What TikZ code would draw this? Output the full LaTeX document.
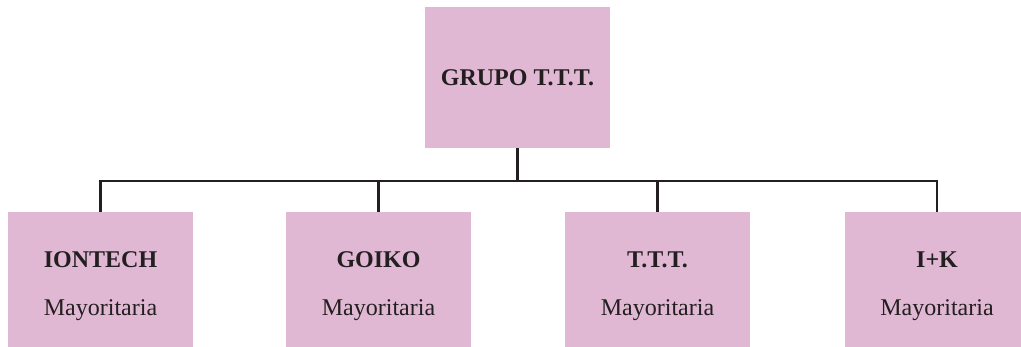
\documentclass[tikz,border=0pt]{standalone}
\usepackage{fontspec}
\setmainfont{Liberation Serif}
\usepackage{xcolor}
\usepackage{tikz}
\usetikzlibrary{positioning}
\definecolor{boxpink}{HTML}{E1B8D4}
\definecolor{inkgray}{HTML}{231F20}
\tikzset{
  head/.style={rectangle, fill=boxpink, minimum width=92.5pt, minimum height=70.5pt, align=center, text=inkgray, font=\fontsize{12}{14.4}\selectfont\bfseries},
  firm/.style={rectangle, fill=boxpink, minimum width=92.5pt, minimum height=67.5pt, align=center, text=inkgray, font=\fontsize{12}{14.4}\selectfont},
  link/.style={draw=inkgray, line width=1.25pt}
}

\begin{document}
\begin{tikzpicture}[x=0.5pt, y=-0.5pt]
    \useasboundingbox (0,0) rectangle (1021,347);

    \node[head] (grupo) at (517.5,77.5) {GRUPO T.T.T.};

    % the strut pushes the two lines a little below the middle
    \node[firm] (iontech) at (100.5,279.5) {\rule{0pt}{14.6pt}\textbf{IONTECH}\\[10pt]Mayoritaria};
    \node[firm] (goiko) at (378.5,279.5) {\rule{0pt}{14.6pt}\textbf{GOIKO}\\[10pt]Mayoritaria};
    \node[firm] (ttt) at (657.5,279.5) {\rule{0pt}{14.6pt}\textbf{T.T.T.}\\[10pt]Mayoritaria};
    \node[firm] (ik) at (937,279.5) {\rule{0pt}{14.6pt}\textbf{I+K}\\[10pt]Mayoritaria};

    \coordinate (bus) at (517.5,181);

    \draw[link] (grupo) -- (bus);
    \draw[link] (bus) -| (iontech);
    \draw[link] (bus) -| (goiko);
    \draw[link] (bus) -| (ttt);
    \draw[link] (bus) -| (ik);
\end{tikzpicture}
\end{document}
